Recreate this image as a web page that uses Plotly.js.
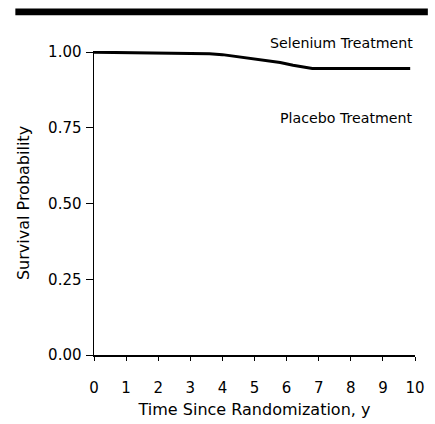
<!DOCTYPE html>
<html>
<head>
<meta charset="utf-8">
<script src="https://cdn.plot.ly/plotly-3.0.1.min.js"></script>
<style>html,body{margin:0;padding:0;background:#fff;}#chart{width:435px;height:424px;}</style>
</head>
<body>
<div id="chart"></div>
<script>
var years = [0, 1.0, 2.0, 3.0, 3.6, 4.0, 4.5, 5.0, 5.4, 5.8, 6.2, 6.5, 6.8, 7.5, 8.5, 9.85];
var survival = [1.000, 0.999, 0.998, 0.997, 0.995, 0.992, 0.985, 0.977, 0.972, 0.966, 0.957, 0.952, 0.946, 0.946, 0.946, 0.946];
var xTicks = [0, 1, 2, 3, 4, 5, 6, 7, 8, 9, 10];
var yTicks = [0, 0.25, 0.5, 0.75, 1.0];
var yTickText = ["0.00", "0.25", "0.50", "0.75", "1.00"];
var labels = ["Selenium Treatment", "Placebo Treatment"];

var font = {family: "DejaVu Sans, Liberation Sans, Arial, sans-serif", color: "#000"};
function f(size) { return Object.assign({size: size}, font); }

var trace = {
  x: years, y: survival, mode: "lines", type: "scatter",
  line: {color: "#000", width: 3, shape: "linear"},
  hoverinfo: "skip", showlegend: false, cliponaxis: false
};

var layout = {
  width: 435, height: 424,
  margin: {l: 94, r: 20, t: 51, b: 69},
  paper_bgcolor: "#fff", plot_bgcolor: "#fff",
  font: f(14),
  showlegend: false,
  xaxis: {
    range: [0, 10], tickvals: xTicks, ticktext: xTicks.map(String),
    showgrid: false, zeroline: false, showline: true, linecolor: "#000", linewidth: 1.5,
    ticks: "outside", ticklen: 4, tickwidth: 1, tickcolor: "#000",
    ticklabelstandoff: 14,
    tickfont: f(15),
    title: {text: "Time Since Randomization, y", font: f(16), standoff: 8},
    fixedrange: true
  },
  yaxis: {
    range: [0, 1.004], tickvals: yTicks, ticktext: yTickText,
    showgrid: false, zeroline: false, showline: true, linecolor: "#000", linewidth: 1.5,
    ticks: "outside", ticklen: 7, tickwidth: 1, tickcolor: "#000",
    ticklabelstandoff: 1,
    tickfont: f(15),
    title: {text: "Survival Probability", font: f(16), standoff: 14},
    fixedrange: true
  },
  annotations: [
    {xref: "paper", yref: "paper", x: 1.0, y: 1.025, text: labels[0], showarrow: false,
     xanchor: "right", yanchor: "middle", font: f(14.2)},
    {xref: "paper", yref: "paper", x: 1.0, y: 0.78, text: labels[1], showarrow: false,
     xanchor: "right", yanchor: "middle", font: f(14.2)}
  ],
  shapes: [
    {type: "rect", xref: "paper", yref: "paper", x0: -0.245, x1: 1.04, y0: 1.118, y1: 1.14,
     fillcolor: "#000", line: {width: 0}}
  ]
};

Plotly.newPlot("chart", [trace], layout, {displayModeBar: false, staticPlot: true});
</script>
</body>
</html>
